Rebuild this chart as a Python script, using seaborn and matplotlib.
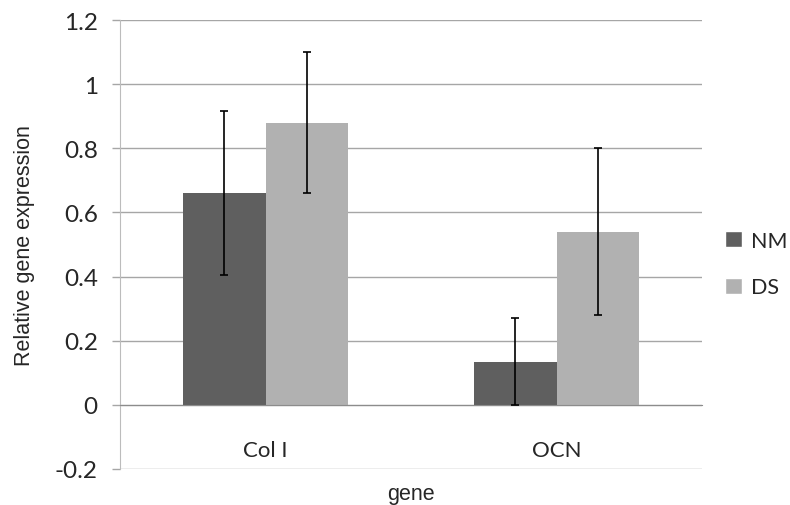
import pandas as pd
import numpy as np
import seaborn as sns
import matplotlib.pyplot as plt
from matplotlib.patches import Patch

genes = ['Col I', 'OCN']
groups = ['NM', 'DS']
nm_mean = [0.66, 0.135]
ds_mean = [0.88, 0.54]
nm_err = [0.255, 0.135]
ds_err = [0.22, 0.26]

colors = {'NM': '#5f5f5f', 'DS': '#b1b1b1'}

df = pd.DataFrame({
    'gene': genes * 2,
    'group': ['NM'] * 2 + ['DS'] * 2,
    'value': nm_mean + ds_mean,
    'err': nm_err + ds_err,
})

sns.set_style('white')
plt.rcParams['font.family'] = ['Liberation Sans', 'DejaVu Sans']
tick_font = ['Lato', 'DejaVu Sans']

fig = plt.figure(figsize=(7.9, 5.06), dpi=100)
ax = fig.add_axes([120 / 790, 1 - 470 / 506, 582 / 790, 449 / 506])

sns.barplot(data=df, x='gene', y='value', hue='group', order=genes, hue_order=groups,
            palette=colors, width=0.57, errorbar=None, saturation=1, linewidth=0,
            ax=ax, legend=False)

# error bars at bar centres
for cont, grp in zip(ax.containers, groups):
    sub = df[df['group'] == grp].set_index('gene').loc[genes]
    xs = [b.get_x() + b.get_width() / 2 for b in cont]
    ax.errorbar(xs, sub['value'], yerr=sub['err'], fmt='none', ecolor='black',
                elinewidth=1.2, capsize=3, capthick=1.2, zorder=5)

ax.set_xlim(-0.5, 1.5)
ax.set_ylim(-0.2, 1.2)
ax.set_yticks([-0.2, 0, 0.2, 0.4, 0.6, 0.8, 1, 1.2])
ax.set_yticklabels(['-0.2', '0', '0.2', '0.4', '0.6', '0.8', '1', '1.2'],
                   family=tick_font, fontsize=17.5)
ax.yaxis.grid(True, color='#a6a6a6', linewidth=1)
ax.set_axisbelow(True)
ax.tick_params(axis='y', length=6, color='#a6a6a6', width=1, pad=10, left=True)

for s in ['top', 'right']:
    ax.spines[s].set_visible(False)
ax.spines['left'].set_color('#bcbcbc')
ax.spines['bottom'].set_position(('data', 0))
ax.spines['bottom'].set_color('#8c8c8c')

ax.set_xticks([0, 1])
ax.set_xticklabels(genes, family=tick_font, fontsize=16)
ax.tick_params(axis='x', which='major', length=0, pad=25)
ax.set_xticks([-0.5, 0.5, 1.5], minor=True)
ax.tick_params(axis='x', which='minor', length=5, color='#8c8c8c', direction='out')

ax.set_ylabel('Relative gene expression', fontsize=15.5, labelpad=14)
ax.set_xlabel('gene', fontsize=15.5, labelpad=17)

handles = [Patch(facecolor=colors[g], label=g) for g in groups]
fig.legend(handles=handles, loc='center left', bbox_to_anchor=(725 / 790, 1 - 265 / 506),
           frameon=False, borderpad=0, borderaxespad=0,
           handlelength=0.78, handleheight=0.78, handletextpad=0.45,
           labelspacing=1.25, prop={'family': tick_font, 'size': 15.5})

fig.savefig('out.png', dpi=100)
